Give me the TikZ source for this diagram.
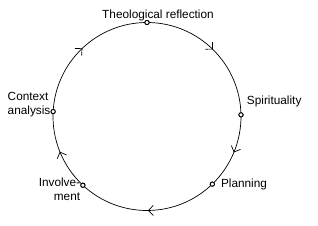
\documentclass[tikz,border=0pt]{standalone}
\usepackage{fontspec}
\setmainfont{Liberation Sans}
\usetikzlibrary{arrows.meta,positioning,decorations.markings}

\begin{document}
\begin{tikzpicture}[
    x=1pt, y=1pt,
    dot/.style={circle, draw=black, fill=white, line width=0.9pt,
        inner sep=0pt, minimum size=4.2pt},
    lbl/.style={inner sep=0pt, font=\fontsize{11.8}{14}\selectfont},
    flow/.style={line width=0.7pt, postaction={decorate},
        decoration={markings, mark=at position 0.5 with
            {\arrow{Straight Barb[length=5pt,width=10pt,line width=0.7pt]}}}}
]
\useasboundingbox (0,0) rectangle (318,225);
\coordinate (O) at (147,108.5);

% stages on the cycle
\node[dot] (theo) at ([shift={(90:94pt)}]O) {};
\node[dot] (spirit) at ([shift={(1:94pt)}]O) {};
\node[dot] (plan) at ([shift={(-46:94pt)}]O) {};
\node[dot] (invol) at ([shift={(-133:94pt)}]O) {};
\node[dot] (context) at ([shift={(177:94pt)}]O) {};

% cycle arcs
\draw[flow] (theo.center) arc[start angle=90, end angle=1, radius=94pt];
\draw[flow] (spirit.center) arc[start angle=1, end angle=-46, radius=94pt];
\draw[flow] (plan.center) arc[start angle=-46, end angle=-133, radius=94pt];
\draw[flow] (invol.center) arc[start angle=-133, end angle=-183, radius=94pt];
\draw[flow] (context.center) arc[start angle=177, end angle=90, radius=94pt];

% redraw dots over the line
\foreach \n in {theo,spirit,plan,invol,context}
    \node[dot] at (\n) {};

% labels
\node[lbl, above=-1pt of theo, xshift=11pt] (theolbl) {Theological reflection};
\node[lbl, above right=6pt and 4pt of spirit] (spiritlbl) {Spirituality};
\node[lbl, right=6pt of plan] (planlbl) {Planning};
\node[lbl, left=0pt of invol, yshift=-4pt, align=right] (invollbl) {Involve-\\ment};
\node[lbl, left=0pt of context, yshift=7pt, align=left] (contextlbl) {Context\\analysis};
\end{tikzpicture}
\end{document}
